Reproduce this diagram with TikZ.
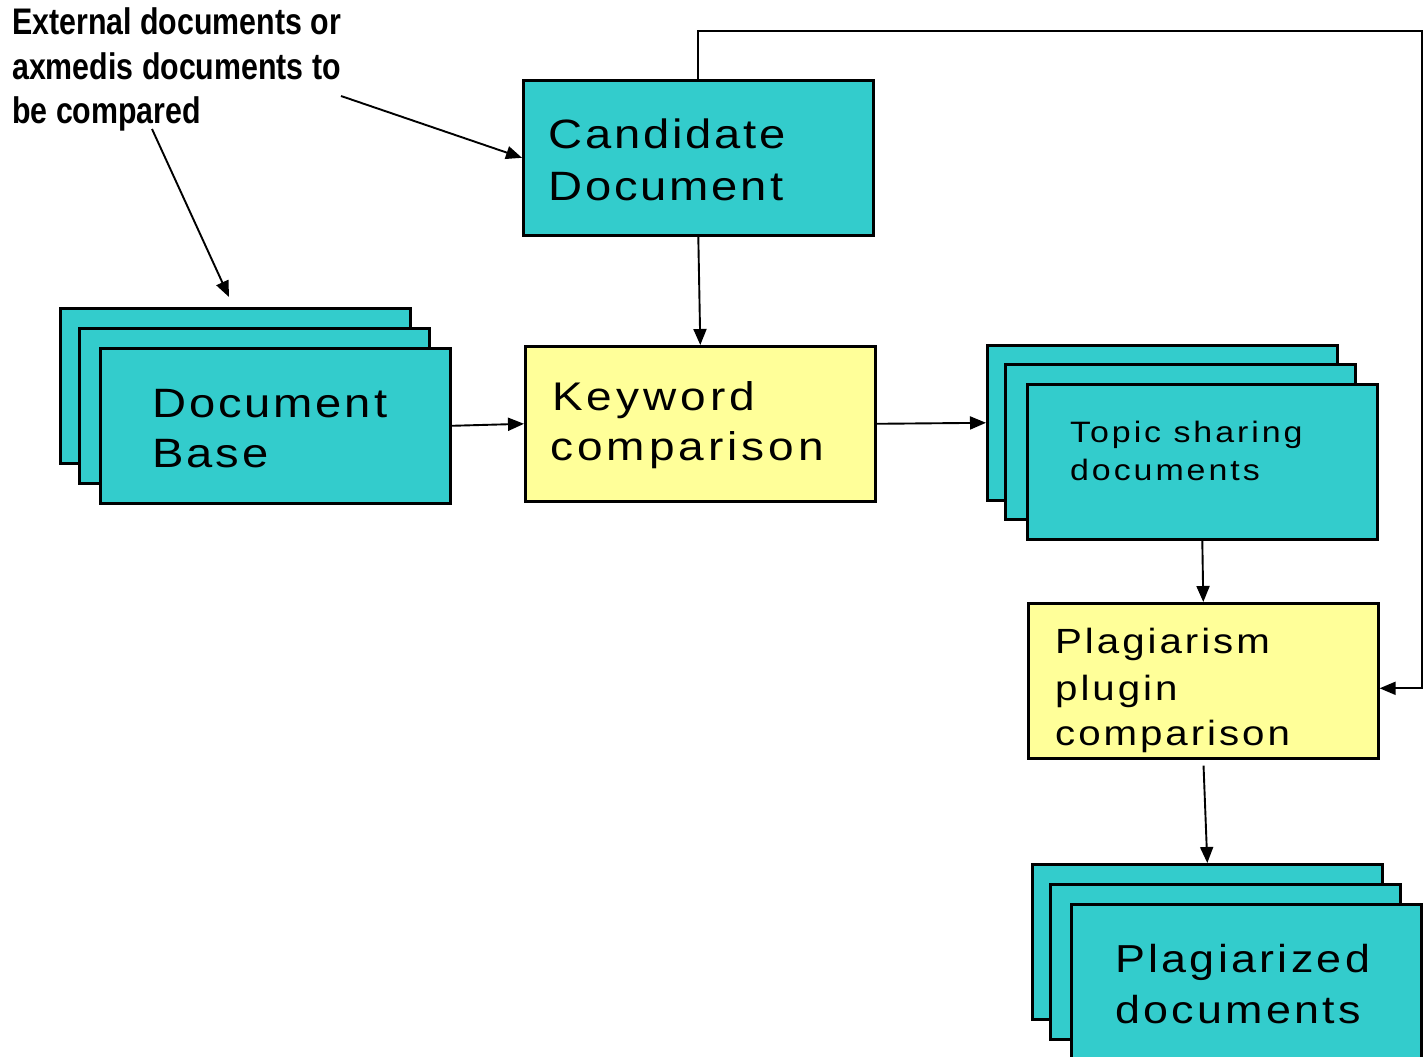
\documentclass[tikz,border=0pt]{standalone}
\usepackage{fontspec}
\setmainfont{Liberation Sans}
% wide, slightly tracked sans for the box labels
\newfontfamily\trackA[FakeStretch=1.15,LetterSpace=7]{Liberation Sans}
\newfontfamily\trackB[FakeStretch=1.15,LetterSpace=8.5]{Liberation Sans}
\newfontfamily\trackC[FakeStretch=1.15,LetterSpace=10]{Liberation Sans}
% condensed bold for the note
\newfontfamily\notefont[FakeStretch=0.82]{Liberation Sans}
\usetikzlibrary{arrows.meta,calc}

\definecolor{docteal}{RGB}{51,204,204}
\definecolor{procyellow}{RGB}{255,255,153}

\tikzset{
  box/.style={draw=black, line width=2.6pt, minimum width=350pt, minimum height=155pt,
    inner sep=0pt, anchor=north west},
  docbox/.style={box, fill=docteal},
  procbox/.style={box, fill=procyellow},
  txt/.style={anchor=base west, inner sep=0pt, text=black},
  arr/.style={draw=black, line width=1.9pt, -{Triangle[length=16pt,width=13pt]}},
}

\begin{document}
\begin{tikzpicture}[x=1pt,y=-1pt]
  \useasboundingbox (0,0) rectangle (1425,1057);
  \fill[white] (0,0) rectangle (1425,1057);

  % note at the top left
  \node[txt] (note1) at (12,35) {\notefont\bfseries\fontsize{37}{45}\selectfont External documents or};
  \node[txt] (note2) at (12,80) {\notefont\bfseries\fontsize{37}{45}\selectfont axmedis documents to};
  \node[txt] (note3) at (12,124) {\notefont\bfseries\fontsize{37}{45}\selectfont be compared};

  % candidate document
  \node[docbox] (cand) at (522,79) {};
  \node[txt] (cand1) at (548,148) {\trackA\fontsize{41}{52}\selectfont Candidate};
  \node[txt] (cand2) at (548,200) {\trackA\fontsize{41}{52}\selectfont Document};

  % document base (stack of three sheets)
  \node[docbox] (dbback) at (59,307) {};
  \node[docbox] (dbmid) at (78,327) {};
  \node[docbox] (dbfront) at (99,347) {};
  \node[txt] (db1) at (152,417) {\trackA\fontsize{41}{50}\selectfont Document};
  \node[txt] (db2) at (152,467) {\trackA\fontsize{41}{50}\selectfont Base};

  % keyword comparison
  \node[procbox] (kw) at (524,345) {};
  \node[txt] (kw1) at (552,410) {\trackC\fontsize{40}{50}\selectfont Keyword};
  \node[txt] (kw2) at (550,460) {\trackC\fontsize{40}{50}\selectfont comparison};

  % topic sharing documents (stack)
  \node[docbox] (tsback) at (986,344) {};
  \node[docbox] (tsmid) at (1004,363) {};
  \node[docbox] (tsfront) at (1026,383) {};
  \node[txt] (ts1) at (1070,442) {\trackC\fontsize{29.5}{38}\selectfont Topic sharing};
  \node[txt] (ts2) at (1070,480) {\trackC\fontsize{29.5}{38}\selectfont documents};

  % plagiarism plugin comparison
  \node[procbox] (plag) at (1027,602) {};
  \node[txt] (plag1) at (1055,653) {\trackB\fontsize{35}{46}\selectfont Plagiarism};
  \node[txt] (plag2) at (1055,700) {\trackB\fontsize{35}{46}\selectfont plugin};
  \node[txt] (plag3) at (1055,745) {\trackB\fontsize{35}{46}\selectfont comparison};

  % plagiarized documents (stack, running off the bottom)
  \node[docbox] (pdback) at (1031,863) {};
  \node[docbox] (pdmid) at (1049,883) {};
  \node[docbox] (pdfront) at (1070,903) {};
  \node[txt] (pd1) at (1115,972) {\trackB\fontsize{39}{51}\selectfont Plagiarized};
  \node[txt] (pd2) at (1115,1023) {\trackB\fontsize{39}{51}\selectfont documents};

  % connector end points
  \coordinate (noteA) at (341,96);
  \coordinate (noteB) at (152,129);
  \coordinate (dbtarget) at (229,297);
  \coordinate (fbcorner) at (1422,31);

  % connectors
  \draw[arr] (noteA) -- (cand.west);
  \draw[arr] (noteB) -- (dbtarget);
  \draw[arr] (cand.south) -- (kw.north);
  \draw[arr] (dbfront.east) -- (kw.west);
  \draw[arr] (kw.east) -- (tsback.west);
  \draw[arr] (tsfront.south) -- (plag.north);
  \draw[arr, shorten <=6pt] (plag.south) -- (pdback.north);
  \draw[arr] (cand.north) |- (fbcorner) |- ($(plag.east)+(0,7.5)$);
\end{tikzpicture}
\end{document}
